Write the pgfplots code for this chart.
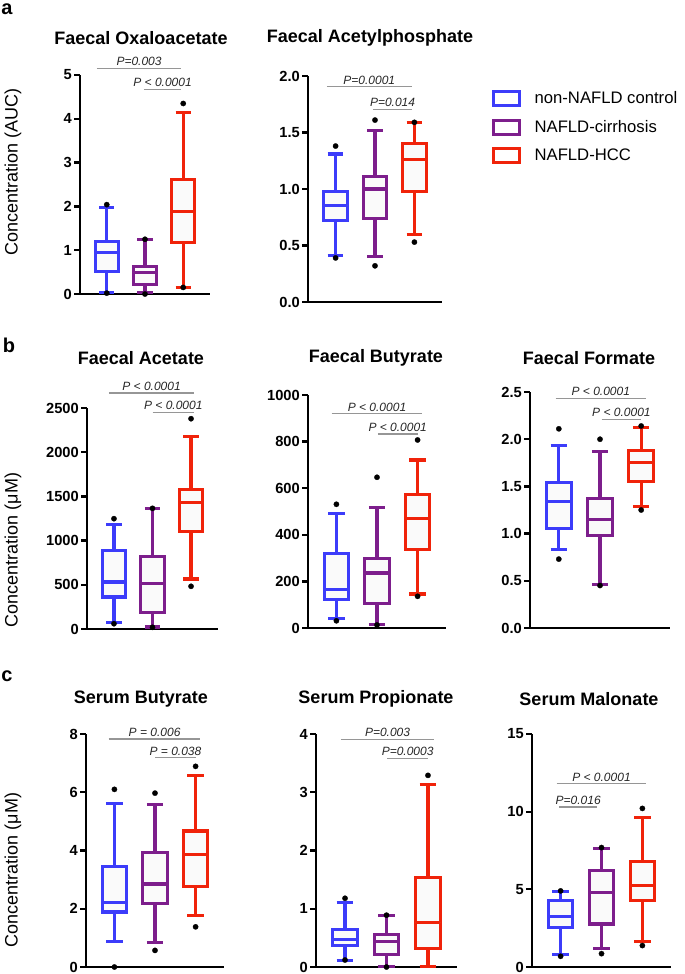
\documentclass[border=0pt]{standalone}
\usepackage{fontspec}
\setmainfont{Liberation Sans}
\usepackage{pgfplots}
\pgfplotsset{compat=1.18}
\usepgfplotslibrary{statistics}

\definecolor{cBlue}{RGB}{60,60,250}
\definecolor{cPurple}{RGB}{125,30,140}
\definecolor{cRed}{RGB}{240,35,10}
\definecolor{sigGray}{RGB}{150,150,150}

\tikzset{
  sigline/.style={draw=sigGray, line width=0.9pt},
  pval/.style={font=\itshape\fontsize{9}{10}\selectfont, text=black!85, inner sep=1.5pt},
  ttl/.style={font=\bfseries\fontsize{13.5}{15}\selectfont, inner sep=0pt},
  ylab/.style={font=\fontsize{13.5}{15}\selectfont, rotate=90, inner sep=0pt},
  plet/.style={font=\bfseries\fontsize{15}{16}\selectfont, inner sep=0pt},
}

\pgfplotsset{
  panel/.style={
    scale only axis,
    anchor=south west,
    xmin=0.3, xmax=3.7, ymin=0,
    axis x line=bottom, axis y line=left,
    axis line style={-, line width=1.7pt, black},
    xtick=\empty,
    tick align=outside,
    major tick length=4.5pt,
    ytick style={line width=1.7pt, black},
    /pgf/number format/assume math mode=true,
    /pgf/number format/set thousands separator={},
    yticklabel style={font=\bfseries\fontsize{11}{12}\selectfont, inner sep=1.5pt},
    clip=false,
    boxplot/draw direction=y,
    boxplot/box extend=0.6,
    boxplot/whisker extend=0.4,
  },
  bx/.style={line width=2.3pt, draw=#1, fill=black!2, solid, mark=*, mark size=2pt,
    mark options={solid, draw=black, fill=black, line width=0.2pt}, forget plot},
}

\begin{document}
\begin{tikzpicture}
\path[use as bounding box] (0,0) rectangle (513.75pt,-730.5pt);

% ---------------- a1: Faecal Oxaloacetate
\begin{axis}[panel, at={(60pt,-220.5pt)}, width=97.5pt, height=164.25pt,
  ymax=5, ytick={0,1,2,3,4,5}]
\addplot[bx=cBlue, boxplot prepared={draw position=1, lower whisker=0.04, lower quartile=0.52, median=0.95, upper quartile=1.2, upper whisker=1.97}]
  table[row sep=\\, y index=0] {v\\ 2.04\\ 0.02\\};
\addplot[bx=cPurple, boxplot prepared={draw position=2, lower whisker=0.03, lower quartile=0.22, median=0.5, upper quartile=0.62, upper whisker=1.25}]
  table[row sep=\\, y index=0] {v\\ 1.25\\ 0.0\\};
\addplot[bx=cRed, boxplot prepared={draw position=3, lower whisker=0.15, lower quartile=1.17, median=1.88, upper quartile=2.62, upper whisker=4.15}]
  table[row sep=\\, y index=0] {v\\ 4.35\\ 0.15\\};
\draw[sigline] (axis cs:0.74,5.15) -- (axis cs:2.95,5.15) node[pval, midway, above] {P=0.003};
\draw[sigline] (axis cs:1.97,4.67) -- (axis cs:2.95,4.67) node[pval, midway, above] {P < 0.0001};
\end{axis}

% ---------------- a2: Faecal Acetylphosphate
\begin{axis}[panel, at={(231pt,-226.5pt)}, width=100.5pt, height=169.5pt,
  ymax=2, ytick={0,0.5,1,1.5,2},
  yticklabel style={/pgf/number format/.cd, fixed, fixed zerofill, precision=1},
  legend cell align=left,
  legend image code/.code={\draw[#1] (0pt,-5.25pt) rectangle (19.5pt,5.25pt);},
  legend style={at={(axis description cs:1.373,0.945)}, anchor=north west,
    draw=none, fill=none, inner sep=0pt, font=\fontsize{12.5}{14}\selectfont,
    row sep=7pt, column sep=8pt}]
\addlegendimage{draw=cBlue, line width=2.3pt, fill=white}
\addlegendentry{non-NAFLD control}
\addlegendimage{draw=cPurple, line width=2.3pt, fill=white}
\addlegendentry{NAFLD-cirrhosis}
\addlegendimage{draw=cRed, line width=2.3pt, fill=white}
\addlegendentry{NAFLD-HCC}
\addplot[bx=cBlue, boxplot prepared={draw position=1, lower whisker=0.41, lower quartile=0.72, median=0.85, upper quartile=0.98, upper whisker=1.31}]
  table[row sep=\\, y index=0] {v\\ 1.38\\ 0.39\\};
\addplot[bx=cPurple, boxplot prepared={draw position=2, lower whisker=0.40, lower quartile=0.74, median=1.0, upper quartile=1.11, upper whisker=1.515}]
  table[row sep=\\, y index=0] {v\\ 1.61\\ 0.32\\};
\addplot[bx=cRed, boxplot prepared={draw position=3, lower whisker=0.60, lower quartile=0.98, median=1.26, upper quartile=1.40, upper whisker=1.585}]
  table[row sep=\\, y index=0] {v\\ 1.59\\ 0.53\\};
\draw[sigline] (axis cs:0.78,1.905) -- (axis cs:2.93,1.905) node[pval, midway, above] {P=0.0001};
\draw[sigline] (axis cs:1.96,1.707) -- (axis cs:2.93,1.707) node[pval, midway, above] {P=0.014};
\end{axis}

% ---------------- b1: Faecal Acetate
\begin{axis}[panel, at={(65.25pt,-471.75pt)}, width=98.25pt, height=165.75pt,
  ymax=2500, ytick={0,500,1000,1500,2000,2500}]
\addplot[bx=cBlue, boxplot prepared={draw position=1, lower whisker=75, lower quartile=362, median=532, upper quartile=888, upper whisker=1180}]
  table[row sep=\\, y index=0] {v\\ 1248\\ 60\\};
\addplot[bx=cPurple, boxplot prepared={draw position=2, lower whisker=23, lower quartile=192, median=513, upper quartile=822, upper whisker=1361}]
  table[row sep=\\, y index=0] {v\\ 1365\\ 19\\};
\addplot[bx=cRed, boxplot prepared={draw position=3, lower whisker=566, lower quartile=1105, median=1430, upper quartile=1576, upper whisker=2180}]
  table[row sep=\\, y index=0] {v\\ 2379\\ 483\\};
\draw[sigline] (axis cs:0.87,2670) -- (axis cs:3.08,2670) node[pval, midway, above] {P < 0.0001};
\draw[sigline] (axis cs:2.0,2451) -- (axis cs:3.08,2451) node[pval, midway, above] {P < 0.0001};
\end{axis}

% ---------------- b2: Faecal Butyrate
\begin{axis}[panel, at={(231pt,-471pt)}, width=103.5pt, height=174.75pt,
  ymax=1000, ytick={0,200,400,600,800,1000}]
\addplot[bx=cBlue, boxplot prepared={draw position=1, lower whisker=39, lower quartile=124, median=164, upper quartile=319, upper whisker=490}]
  table[row sep=\\, y index=0] {v\\ 531\\ 31\\};
\addplot[bx=cPurple, boxplot prepared={draw position=2, lower whisker=14, lower quartile=107, median=236, upper quartile=297, upper whisker=519}]
  table[row sep=\\, y index=0] {v\\ 647\\ 13\\};
\addplot[bx=cRed, boxplot prepared={draw position=3, lower whisker=146, lower quartile=336, median=469, upper quartile=571, upper whisker=721}]
  table[row sep=\\, y index=0] {v\\ 807\\ 136\\};
\draw[sigline] (axis cs:0.88,919) -- (axis cs:3.12,919) node[pval, midway, above] {P < 0.0001};
\draw[sigline] (axis cs:2.02,833) -- (axis cs:3.0,833) node[pval, midway, above] {P < 0.0001};
\end{axis}

% ---------------- b3: Faecal Formate
\begin{axis}[panel, at={(397.5pt,-471pt)}, width=105pt, height=177pt,
  ymax=2.5, ytick={0,0.5,1,1.5,2,2.5},
  yticklabel style={/pgf/number format/.cd, fixed, fixed zerofill, precision=1}]
\addplot[bx=cBlue, boxplot prepared={draw position=1, lower whisker=0.83, lower quartile=1.05, median=1.34, upper quartile=1.54, upper whisker=1.93}]
  table[row sep=\\, y index=0] {v\\ 2.11\\ 0.73\\};
\addplot[bx=cPurple, boxplot prepared={draw position=2, lower whisker=0.46, lower quartile=0.98, median=1.15, upper quartile=1.37, upper whisker=1.87}]
  table[row sep=\\, y index=0] {v\\ 2.0\\ 0.45\\};
\addplot[bx=cRed, boxplot prepared={draw position=3, lower whisker=1.285, lower quartile=1.55, median=1.75, upper quartile=1.88, upper whisker=2.12}]
  table[row sep=\\, y index=0] {v\\ 2.14\\ 1.25\\};
\draw[sigline] (axis cs:0.92,2.43) -- (axis cs:3.12,2.43) node[pval, midway, above] {P < 0.0001};
\draw[sigline] (axis cs:2.04,2.21) -- (axis cs:3.0,2.21) node[pval, midway, above] {P < 0.0001};
\end{axis}

% ---------------- c1: Serum Butyrate
\begin{axis}[panel, at={(64.5pt,-725.25pt)}, width=103.5pt, height=174.75pt,
  ymax=8, ytick={0,2,4,6,8}]
\addplot[bx=cBlue, boxplot prepared={draw position=1, lower whisker=0.88, lower quartile=1.89, median=2.22, upper quartile=3.44, upper whisker=5.6}]
  table[row sep=\\, y index=0] {v\\ 6.1\\ 0.0\\};
\addplot[bx=cPurple, boxplot prepared={draw position=2, lower whisker=0.83, lower quartile=2.18, median=2.85, upper quartile=3.93, upper whisker=5.57}]
  table[row sep=\\, y index=0] {v\\ 5.97\\ 0.57\\};
\addplot[bx=cRed, boxplot prepared={draw position=3, lower whisker=1.78, lower quartile=2.76, median=3.87, upper quartile=4.67, upper whisker=6.57}]
  table[row sep=\\, y index=0] {v\\ 6.89\\ 1.38\\};
\draw[sigline] (axis cs:0.86,7.83) -- (axis cs:3.12,7.83) node[pval, midway, above] {P = 0.006};
\draw[sigline] (axis cs:2.01,7.18) -- (axis cs:3.0,7.18) node[pval, midway, above] {P = 0.038};
\end{axis}

% ---------------- c2: Serum Propionate
\begin{axis}[panel, at={(237pt,-725.25pt)}, width=105.75pt, height=174.75pt,
  ymax=4, ytick={0,1,2,3,4}]
\addplot[bx=cBlue, boxplot prepared={draw position=1, lower whisker=0.11, lower quartile=0.37, median=0.47, upper quartile=0.64, upper whisker=1.10}]
  table[row sep=\\, y index=0] {v\\ 1.18\\ 0.12\\};
\addplot[bx=cPurple, boxplot prepared={draw position=2, lower whisker=0.01, lower quartile=0.22, median=0.43, upper quartile=0.56, upper whisker=0.89}]
  table[row sep=\\, y index=0] {v\\ 0.89\\ 0.0\\};
\addplot[bx=cRed, boxplot prepared={draw position=3, lower whisker=0.01, lower quartile=0.32, median=0.76, upper quartile=1.54, upper whisker=3.14}]
  table[row sep=\\, y index=0] {v\\ 3.29\\};
\draw[sigline] (axis cs:0.9,3.91) -- (axis cs:3.15,3.91) node[pval, midway, above] {P=0.003};
\draw[sigline] (axis cs:2.02,3.58) -- (axis cs:3.0,3.58) node[pval, midway, above] {P=0.0003};
\end{axis}

% ---------------- c3: Serum Malonate
\begin{axis}[panel, at={(399pt,-725.25pt)}, width=104.25pt, height=174.75pt,
  ymax=15, ytick={0,5,10,15}]
\addplot[bx=cBlue, boxplot prepared={draw position=1, lower whisker=0.82, lower quartile=2.53, median=3.25, upper quartile=4.28, upper whisker=4.88}]
  table[row sep=\\, y index=0] {v\\ 4.9\\ 0.69\\};
\addplot[bx=cPurple, boxplot prepared={draw position=2, lower whisker=1.18, lower quartile=2.77, median=4.79, upper quartile=6.23, upper whisker=7.63}]
  table[row sep=\\, y index=0] {v\\ 7.69\\ 0.86\\};
\addplot[bx=cRed, boxplot prepared={draw position=3, lower whisker=1.66, lower quartile=4.26, median=5.27, upper quartile=6.77, upper whisker=9.65}]
  table[row sep=\\, y index=0] {v\\ 10.21\\ 1.38\\};
\draw[sigline] (axis cs:0.9,11.8) -- (axis cs:3.1,11.8) node[pval, midway, above] {P < 0.0001};
\draw[sigline] (axis cs:0.96,10.3) -- (axis cs:1.9,10.3) node[pval, midway, above] {P=0.016};
\end{axis}

% ---------------- titles, labels, panel letters
\node[ttl] at (105.75pt,-28.5pt) {Faecal Oxaloacetate};
\node[ttl] at (277.5pt,-28.5pt) {Faecal Acetylphosphate};
\node[ttl] at (105.75pt,-268.5pt) {Faecal Acetate};
\node[ttl] at (282pt,-268.5pt) {Faecal Butyrate};
\node[ttl] at (441.75pt,-268.5pt) {Faecal Formate};
\node[ttl] at (105.75pt,-524.25pt) {Serum Butyrate};
\node[ttl] at (282pt,-524.25pt) {Serum Propionate};
\node[ttl] at (441.75pt,-524.25pt) {Serum Malonate};

\node[ylab] at (9.75pt,-129pt) {Concentration (AUC)};
\node[ylab] at (9.75pt,-412.5pt) {Concentration (μM)};
\node[ylab] at (9.75pt,-652.5pt) {Concentration (μM)};

\node[plet] at (5.25pt,-6.75pt) {a};
\node[plet] at (6.75pt,-258.75pt) {b};
\node[plet] at (5.25pt,-507pt) {c};
\end{tikzpicture}
\end{document}
